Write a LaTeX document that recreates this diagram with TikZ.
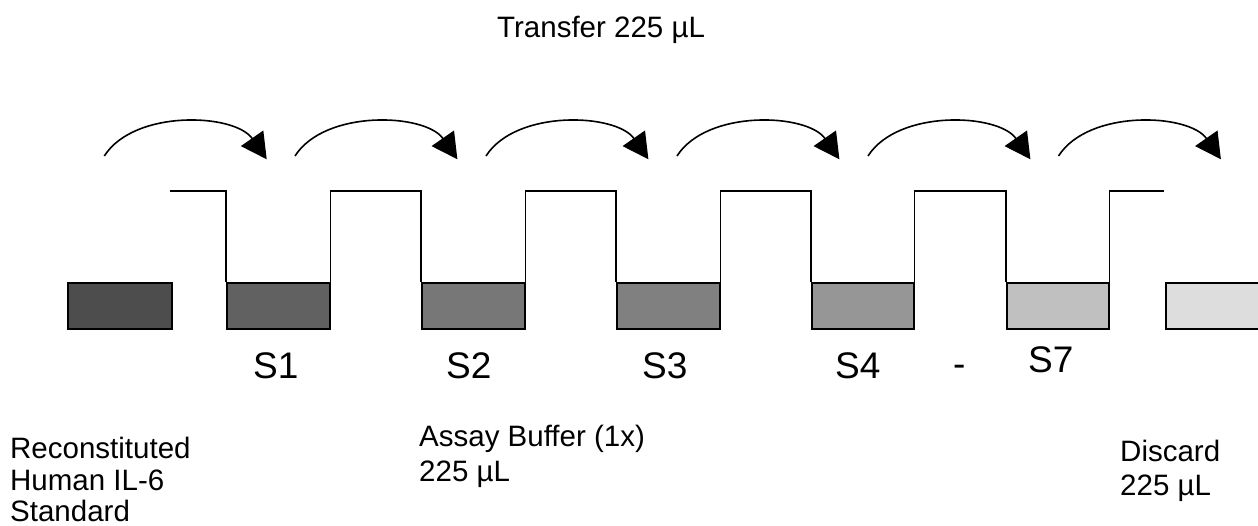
\documentclass[tikz,border=0pt]{standalone}
\usepackage{fontspec}
\setmainfont{Liberation Sans}
\usetikzlibrary{arrows.meta}
\definecolor{cA}{HTML}{4D4D4D}
\definecolor{cB}{HTML}{616161}
\definecolor{cC}{HTML}{777777}
\definecolor{cD}{HTML}{808080}
\definecolor{cE}{HTML}{969696}
\definecolor{cF}{HTML}{C0C0C0}
\definecolor{cG}{HTML}{DDDDDD}
\begin{document}
\begin{tikzpicture}[x=1pt,y=-1pt,
  wellbox/.style={draw=black, line width=1.6pt, rectangle, inner sep=0pt,
    minimum height=46pt, anchor=north west, fill=#1},
  wellline/.style={draw=black, line width=1.6pt, line join=miter},
  seam/.style={draw=black, line width=2.8pt},
  transfer/.style={draw=black, line width=1.6pt,
    -{Triangle[length=25.6pt,width=27pt]}},
  smalltext/.style={inner sep=0pt, anchor=base west,
    font=\fontsize{29.5}{33.5}\selectfont},
  slabel/.style={inner sep=0pt, anchor=base west,
    font=\fontsize{37}{42}\selectfont}
]
\useasboundingbox (0,0) rectangle (1258,526);
\clip (0,0) rectangle (1258,526);

% tubes (boxes)
\node[wellbox=cA, minimum width=104pt] (b0) at (67,282) {};
\node[wellbox=cB, minimum width=103pt] (b1) at (226,282) {};
\node[wellbox=cC, minimum width=103pt] (b2) at (421,282) {};
\node[wellbox=cD, minimum width=103pt] (b3) at (616,282) {};
\node[wellbox=cE, minimum width=102pt] (b4) at (811,282) {};
\node[wellbox=cF, minimum width=102pt] (b5) at (1006,282) {};
\node[wellbox=cG, minimum width=110pt] (b6) at (1165,282) {};

% well outline
\coordinate (top) at (0,191);
\coordinate (lstart) at (170,191);
\coordinate (lend) at (1164,191);
\draw[wellline] (lstart) -- (b1.north west |- top) -- (b1.north west);
\draw[wellline] (b1.north east) -- (b1.north east |- top) -- (b2.north west |- top) -- (b2.north west);
\draw[wellline] (b2.north east) -- (b2.north east |- top) -- (b3.north west |- top) -- (b3.north west);
\draw[wellline] (b3.north east) -- (b3.north east |- top) -- (b4.north west |- top) -- (b4.north west);
\draw[wellline] (b4.north east) -- (b4.north east |- top) -- (b5.north west |- top) -- (b5.north west);
\draw[wellline] (b5.north east) -- (b5.north east |- top) -- (lend);

% small seams on the top lines
\draw[seam] (365,191) -- (385,191);
\draw[seam] (560,191) -- (580,191);
\draw[seam] (755,191) -- (775,191);
\draw[seam] (949,191) -- (969,191);

% transfer arcs
\coordinate (s1) at (104.3,156); \coordinate (t1) at (266.7,159.3);
\coordinate (s2) at (295,156);   \coordinate (t2) at (457.4,159.3);
\coordinate (s3) at (486,156);   \coordinate (t3) at (648.4,159.3);
\coordinate (s4) at (677,156);   \coordinate (t4) at (839.4,159.3);
\coordinate (s5) at (868,156);   \coordinate (t5) at (1030.4,159.3);
\coordinate (s6) at (1058.5,156);\coordinate (t6) at (1220.9,159.3);
\foreach \i in {1,...,6}{
  \draw[transfer] (s\i) .. controls +(30,-47) and +(-32,-46) .. (t\i);
}

% texts
\node[smalltext] (ttransfer) at (497,38) {Transfer 225 µL};

\node[slabel] (l1) at (253,378) {S1};
\node[slabel] (l2) at (446,378) {S2};
\node[slabel] (l3) at (642,378) {S3};
\node[slabel] (l4) at (835,378) {S4};
\node[slabel] (ldash) at (953,377) {-};
\node[slabel] (l7) at (1028,373) {S7};

\node[smalltext] (r1) at (10,458) {Reconstituted};
\node[smalltext] (r2) at (10,490) {Human IL-6};
\node[smalltext] (r3) at (10,521) {Standard};

\node[smalltext] (a1) at (419,446) {Assay Buffer (1x)};
\node[smalltext] (a2) at (419,481) {225 µL};

\node[smalltext] (d1) at (1120,461) {Discard};
\node[smalltext] (d2) at (1120,495) {225 µL};
\end{tikzpicture}
\end{document}
